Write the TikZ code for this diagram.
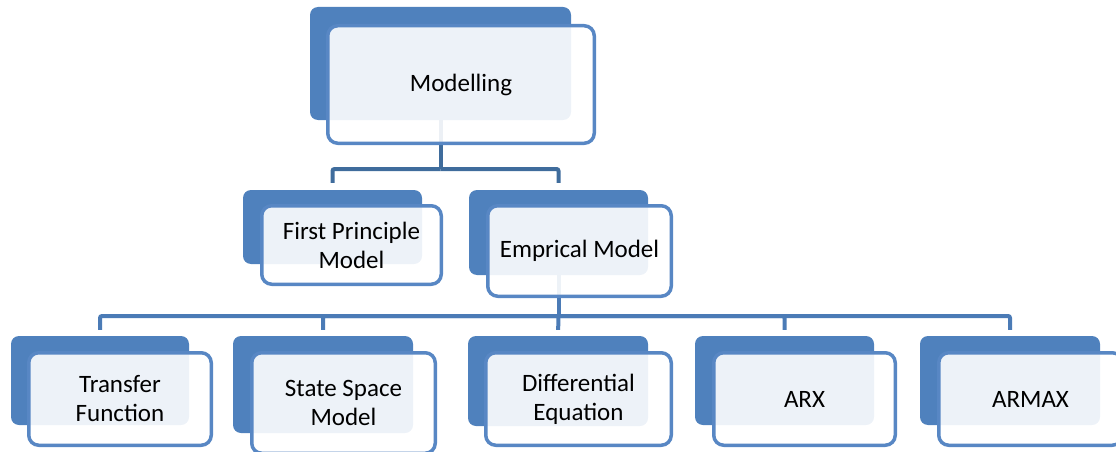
\documentclass[tikz,border=0pt]{standalone}
\usepackage{fontspec}
\setmainfont{Carlito}
\usetikzlibrary{positioning}
\definecolor{boxblue}{HTML}{4F81BD}
\definecolor{frameblue}{HTML}{5887C4}
\definecolor{topline}{HTML}{3F6C9C}
\definecolor{lowline}{HTML}{4B7BB6}

\begin{document}
\begin{tikzpicture}[x=1pt,y=-1pt]
\tikzset{
  backbox/.style={rectangle,rounded corners=8pt,fill=boxblue,inner sep=0pt},
  frontbox/.style={rectangle,rounded corners=10pt,draw=frameblue,line width=3.5pt,
    fill=white,fill opacity=0.9,text opacity=1,inner sep=2pt,align=center,
    font=\fontsize{25}{29}\selectfont},
  toplink/.style={draw=topline,line width=4pt,rounded corners=2pt,shorten >=7pt},
  lowlink/.style={draw=lowline,line width=4pt,rounded corners=2pt,shorten >=6pt}
}
\path[use as bounding box,clip] (0,0) rectangle (1116,452);
% back boxes
\node[backbox,minimum width=261pt,minimum height=113pt] (n_model_b) at (440.5,63.5) {};
\node[backbox,minimum width=179pt,minimum height=74pt] (n_first_b) at (332.5,227) {};
\node[backbox,minimum width=179pt,minimum height=85pt] (n_emp_b) at (558.5,232.5) {};
\node[backbox,minimum width=178pt,minimum height=89pt] (n_tf_b) at (100,380.5) {};
\node[backbox,minimum width=180pt,minimum height=97pt] (n_ss_b) at (323,384.5) {};
\node[backbox,minimum width=180pt,minimum height=90pt] (n_de_b) at (558,381) {};
\node[backbox,minimum width=179pt,minimum height=89pt] (n_arx_b) at (784.5,380.5) {};
\node[backbox,minimum width=180pt,minimum height=89pt] (n_armax_b) at (1010,380.5) {};
% connectors
\coordinate (bus_top) at (440.5,169);
\coordinate (bus_low) at (558.5,316);
\draw[toplink,shorten >=0pt] (n_model_b.south) -- (bus_top);
\draw[toplink] (bus_top) -| (n_first_b.north);
\draw[toplink] (bus_top) -| (n_emp_b.north);
\draw[lowlink,shorten >=0pt] (n_emp_b.south) -- (bus_low);
\draw[lowlink] (bus_low) -| (n_tf_b.north);
\draw[lowlink] (bus_low) -| (n_ss_b.north);
\draw[lowlink] (bus_low) -- (n_de_b.north);
\draw[lowlink] (bus_low) -| (n_arx_b.north);
\draw[lowlink] (bus_low) -| (n_armax_b.north);
% front boxes
\node[frontbox,minimum width=266.5pt,minimum height=117.5pt] (n_model) at (461,84.5) {Modelling};
\node[frontbox,minimum width=179.5pt,minimum height=78.5pt] (n_first) at (351.5,245) {First Principle\\Model};
\node[frontbox,minimum width=183.5pt,minimum height=90.5pt] (n_emp) at (579.5,251) {Emprical Model};
\node[frontbox,minimum width=182.5pt,minimum height=92.5pt] (n_tf) at (120,399) {Transfer\\Function};
\node[frontbox,minimum width=183.5pt,minimum height=100.5pt] (n_ss) at (343.5,403) {State Space\\Model};
\node[frontbox,minimum width=185.5pt,minimum height=92.5pt] (n_de) at (578.5,399) {Differential\\Equation};
\node[frontbox,minimum width=181.5pt,minimum height=92.5pt] (n_arx) at (804.5,399) {ARX};
\node[frontbox,minimum width=183.5pt,minimum height=92.5pt] (n_armax) at (1030.5,399) {ARMAX};
\end{tikzpicture}
\end{document}
